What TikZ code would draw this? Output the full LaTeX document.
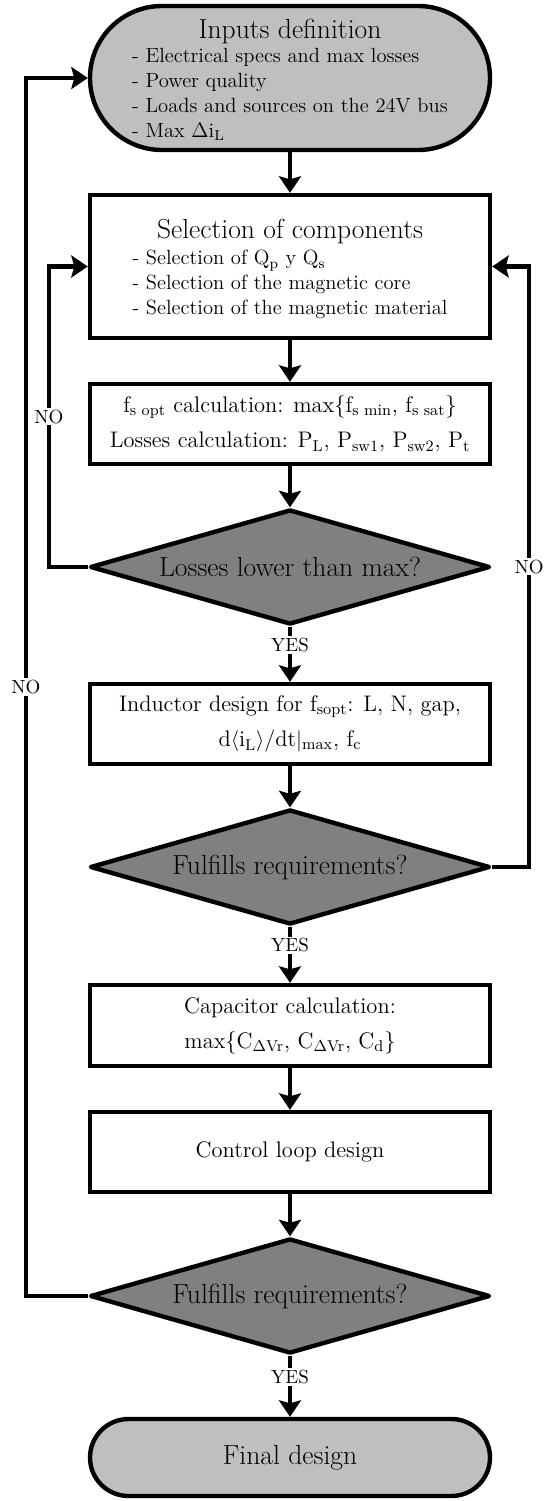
\documentclass[tikz,border=0pt]{standalone}
\usetikzlibrary{shapes.geometric,arrows.meta}
\newcommand{\bigtxt}{\fontsize{15.7}{18}\selectfont}
\newcommand{\boxtxt}{\fontsize{12.8}{20}\selectfont}
\newcommand{\listtxt}{\fontsize{11.7}{14.2}\selectfont}
\newcommand{\lbltxt}{\fontsize{10.8}{12}\selectfont}
\begin{document}
\begin{tikzpicture}[
	line width=2.5pt,
	terminal/.style={draw, fill=black!25, minimum width=8cm, align=center, inner sep=0pt, font=\listtxt},
	process/.style={draw, rectangle, minimum width=8cm, minimum height=1.6cm, align=center, inner sep=0pt, font=\boxtxt},
	decision/.style={draw, diamond, fill=black!50, aspect=3.5, minimum width=8cm, minimum height=2.3cm, inner sep=0pt, line join=round, font=\bigtxt},
	flow/.style={-{Stealth[length=0.33cm,width=0.44cm,inset=0.06cm]}},
	answer/.style={fill=white, inner sep=1pt, font=\lbltxt}
]
	\useasboundingbox (0,0) rectangle (10.96,-30.02);

	\node[terminal, minimum height=2.88cm, rounded corners=1.44cm] (inputs) at (5.8,-1.56) {{\bigtxt\rule{0pt}{15.6pt}Inputs definition}\\[-0.9pt] \begin{tabular}[t]{@{}l@{}}- Electrical specs and max losses\\ - Power quality\\ - Loads and sources on the 24V bus\\ - Max $\Delta$i\textsubscript{L}\end{tabular}};

	\node[process, minimum height=2.86cm, font=\listtxt] (select) at (5.8,-5.33) {{\bigtxt\rule{0pt}{15.9pt}Selection of components}\\[0.8pt] \begin{tabular}[t]{@{}l@{}}- Selection of Q\textsubscript{p} y Q\textsubscript{s}\\ - Selection of the magnetic core\\ - Selection of the magnetic material\end{tabular}};
	\node[process] (losscalc) at (5.8,-8.48) {f\textsubscript{s opt} calculation: max\{f\textsubscript{s min}, f\textsubscript{s sat}\}\\ Losses calculation: P\textsubscript{L}, P\textsubscript{sw1}, P\textsubscript{sw2}, P\textsubscript{t}};
	\node[decision] (lossdec) at (5.8,-11.34) {Losses lower than max?};

	\node[process] (inductor) at (5.8,-14.48) {Inductor design for f\textsubscript{sopt}: L, N, gap,\\ d$\langle$i\textsubscript{L}$\rangle$/dt$|$\textsubscript{max}, f\textsubscript{c}};
	\node[decision] (reqdec1) at (5.8,-17.34) {Fulfills requirements?};

	\node[process, minimum height=1.62cm] (capcalc) at (5.8,-20.51) {Capacitor calculation:\\ max\{C\textsubscript{$\Delta$Vr}, C\textsubscript{$\Delta$Vr}, C\textsubscript{d}\}};
	\node[process] (control) at (5.8,-23.04) {Control loop design};
	\node[decision] (reqdec2) at (5.8,-25.92) {Fulfills requirements?};

	\node[terminal, minimum height=1.54cm, rounded corners=0.77cm] (final) at (5.8,-29.15) {\bigtxt Final design};

	\draw[flow] (inputs.south) -- (select.north);
	\draw[flow] (select.south) -- (losscalc.north);
	\draw[flow] (losscalc.south) -- (lossdec.north);
	\draw[flow] (lossdec.south) -- node[answer, pos=0.33] {YES} (inductor.north);
	\draw[flow] (inductor.south) -- (reqdec1.north);
	\draw[flow] (reqdec1.south) -- node[answer, pos=0.33] {YES} (capcalc.north);
	\draw[flow] (capcalc.south) -- (control.north);
	\draw[flow] (control.south) -- (reqdec2.north);
	\draw[flow] (reqdec2.south) -- node[answer, pos=0.35] {YES} (final.north);

	\draw[flow] (lossdec.west) -- ++(-0.78,0) |- node[answer, pos=0.25] {NO} (select.west);
	\draw[flow] (reqdec1.east) -- ++(0.74,0) |- node[answer, pos=0.25] {NO} (select.east);
	\draw[flow] (reqdec2.west) -- ++(-1.24,0) |- node[answer, pos=0.25] {NO} (inputs.west);
\end{tikzpicture}
\end{document}
